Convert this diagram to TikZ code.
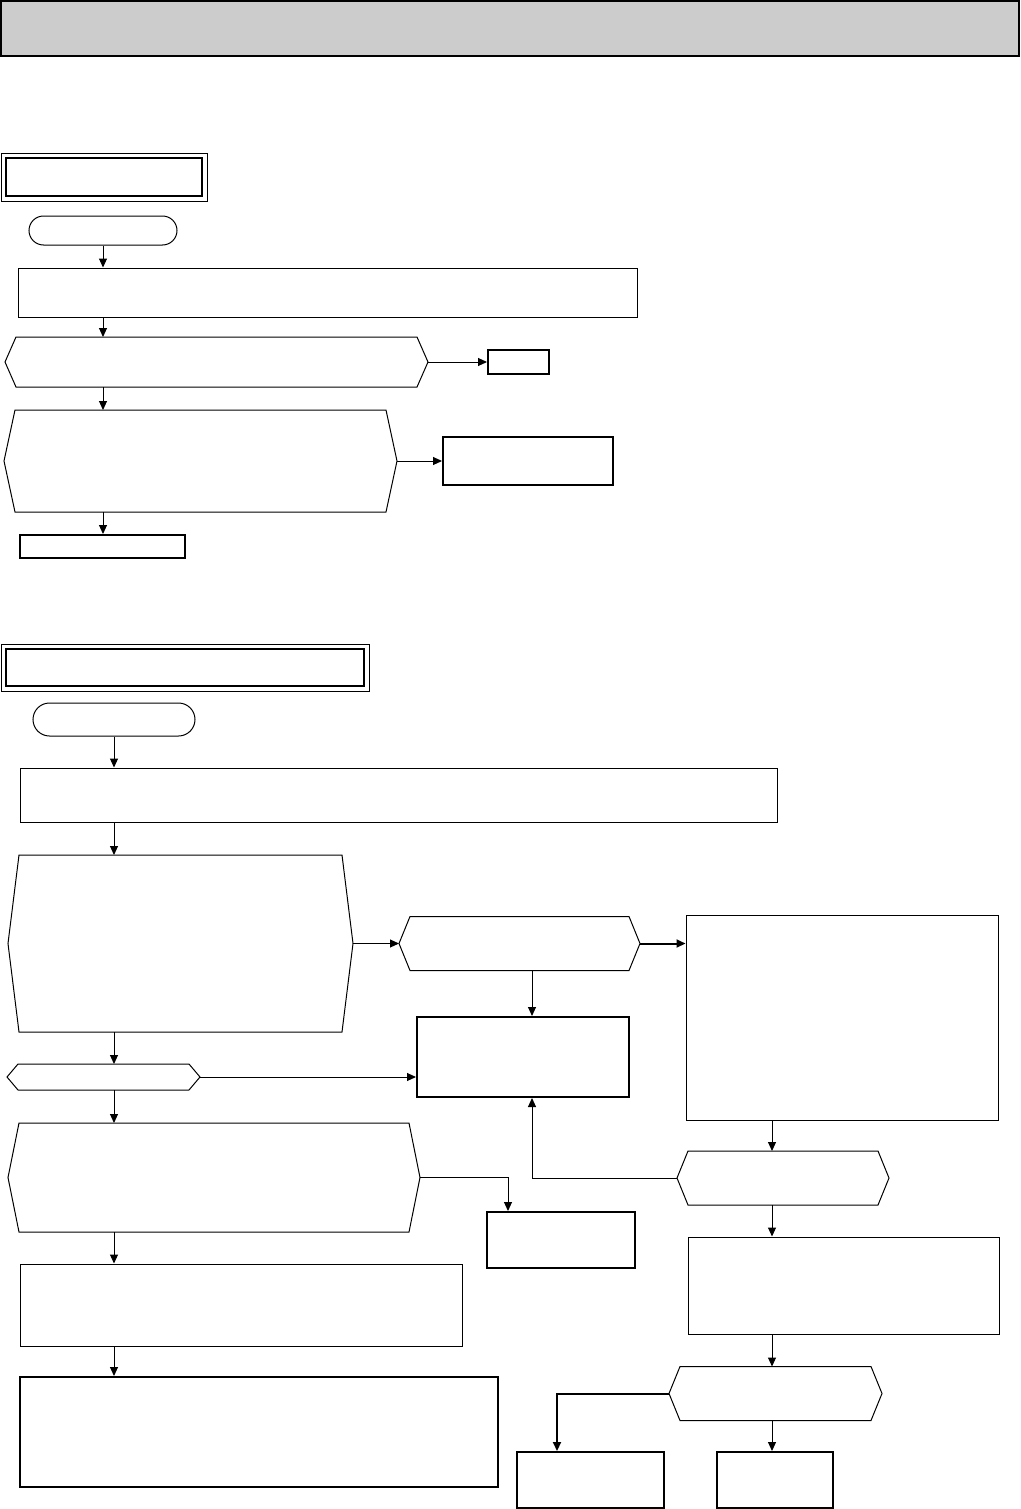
\documentclass[tikz,border=0pt]{standalone}
\usepackage{tikz}
\usepackage{xcolor}
\usetikzlibrary{arrows.meta,shapes.misc}
\definecolor{bargray}{HTML}{CCCCCC}

\begin{document}
\begin{tikzpicture}[
  x=1pt, y=-1pt,
  proc/.style={draw=black, line width=1pt, inner sep=0pt},
  stop/.style={draw=black, line width=2pt, inner sep=0pt},
  termin/.style={rounded rectangle, draw=black, line width=1pt, inner sep=0pt},
  frame/.style={
    draw=black, line width=2pt, inner sep=0pt,
    append after command={\pgfextra{\let\framenode\tikzlastnode
      \draw[line width=1pt] ([shift={(-4pt,4pt)}]\framenode.north west)
        rectangle ([shift={(4pt,-4pt)}]\framenode.south east);}}
  },
  ask/.style={
    draw=none, inner sep=0pt, outer sep=0pt,
    append after command={\pgfextra{\let\asknode\tikzlastnode
      \draw[line width=1pt] ([xshift=11pt]\asknode.north west)
        -- ([xshift=-11pt]\asknode.north east) -- (\asknode.east)
        -- ([xshift=-11pt]\asknode.south east) -- ([xshift=11pt]\asknode.south west)
        -- (\asknode.west) -- cycle;}}
  },
  arr/.style={-{Triangle[length=9pt,width=8pt]}, line width=1pt},
  arrb/.style={-{Triangle[length=9pt,width=8pt]}, line width=2pt}
]
\useasboundingbox (0,0) rectangle (1020,1509);

\node[draw, line width=1.3pt, fill=bargray, inner sep=0pt, minimum width=1018, minimum height=55] (head) at (510,28.5) {};

% first chart
\node[frame, minimum width=196, minimum height=38] (titleA) at (104,177) {};
\node[termin, minimum width=148, minimum height=29] (startA) at (103,230.5) {};
\node[proc, minimum width=619, minimum height=49] (stepA1) at (327.5,292.5) {};
\node[ask, minimum width=423, minimum height=50] (askA1) at (216.5,362) {};
\node[stop, minimum width=61, minimum height=24] (endA1) at (518.5,362) {};
\node[ask, minimum width=393, minimum height=102] (askA2) at (200.5,461) {};
\node[stop, minimum width=170, minimum height=48] (endA2) at (528,461) {};
\node[stop, minimum width=165, minimum height=23] (endA3) at (102.5,546.5) {};

\draw[arr] (startA) -- (startA |- stepA1.north);
\draw[arr] (startA |- stepA1.south) -- (startA |- askA1.north);
\draw[arr] (askA1) -- (endA1);
\draw[arr] (startA |- askA1.south) -- (startA |- askA2.north);
\draw[arr] (askA2) -- (endA2);
\draw[arr] (startA |- askA2.south) -- (startA |- endA3.north);

% second chart
\node[frame, minimum width=358, minimum height=37] (titleB) at (185,667.5) {};
\node[termin, minimum width=162, minimum height=33] (startB) at (114,719.5) {};
\node[proc, minimum width=757, minimum height=54] (stepB1) at (398.5,795) {};
\node[ask, minimum width=345, minimum height=177] (askB1) at (180.5,943.5) {};
\node[ask, minimum width=241, minimum height=54] (askB2) at (519.5,943.5) {};
\node[proc, minimum width=312, minimum height=205] (boxB3) at (842,1017.5) {};
\node[stop, minimum width=212, minimum height=80] (boxB4) at (523,1057) {};
\node[ask, minimum width=193, minimum height=26] (askB5) at (103.5,1077) {};
\node[ask, minimum width=412, minimum height=109] (askB6) at (214,1177.5) {};
\node[stop, minimum width=148, minimum height=56] (boxB7) at (561,1240) {};
\node[proc, minimum width=442, minimum height=82] (stepB8) at (241.5,1305) {};
\node[stop, minimum width=478, minimum height=110] (boxB9) at (259,1432) {};
\node[ask, minimum width=212, minimum height=54] (askB10) at (783,1178) {};
\node[proc, minimum width=311, minimum height=97] (boxB11) at (843.5,1285.5) {};
\node[ask, minimum width=213, minimum height=54] (askB12) at (775.5,1393.5) {};
\node[stop, minimum width=147, minimum height=56] (boxB13) at (590.5,1480) {};
\node[stop, minimum width=116, minimum height=56] (boxB14) at (775,1480) {};

\coordinate (colM) at (532,0);
\coordinate (colB7) at (508,0);
\coordinate (colR) at (772,0);
\coordinate (colL) at (557,0);

\draw[arr] (startB) -- (startB |- stepB1.north);
\draw[arr] (startB |- stepB1.south) -- (startB |- askB1.north);
\draw[arr] (askB1.east) -- (askB2.west);
\draw[arrb] (askB2.east) -- (askB2.east -| boxB3.west);
\draw[arr] (colM |- askB2.south) -- (colM |- boxB4.north);
\draw[arr] (startB |- askB1.south) -- (startB |- askB5.north);
\draw[arr] (askB5.east) -- (askB5.east -| boxB4.west);
\draw[arr] (startB |- askB5.south) -- (startB |- askB6.north);
\draw[arr] (askB6.east) -| (colB7 |- boxB7.north);
\draw[arr] (startB |- askB6.south) -- (startB |- stepB8.north);
\draw[arr] (startB |- stepB8.south) -- (startB |- boxB9.north);
\draw[arr] (colR |- boxB3.south) -- (colR |- askB10.north);
\draw[arr] (askB10.west) -| (colM |- boxB4.south);
\draw[arr] (colR |- askB10.south) -- (colR |- boxB11.north);
\draw[arr] (colR |- boxB11.south) -- (colR |- askB12.north);
\draw[arrb] (askB12.west) -| (colL |- boxB13.north);
\draw[arr] (colR |- askB12.south) -- (colR |- boxB14.north);

\end{tikzpicture}
\end{document}
